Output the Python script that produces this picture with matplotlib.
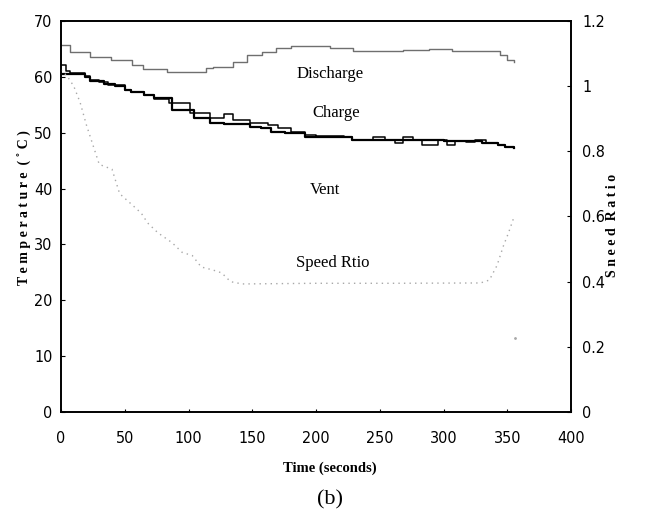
import matplotlib
matplotlib.use("Agg")
import matplotlib.pyplot as plt
from matplotlib import font_manager

# time / temperature readings for the two charge side lines (step data)
time_charge = [0, 19, 23, 34, 42, 50, 55, 65, 73, 87, 104, 117, 128, 148, 157,
               165, 176, 191, 228, 300, 330, 343, 348, 355]
temp_charge = [60.6, 60.0, 59.3, 58.8, 58.3, 57.7, 57.3, 56.8, 56.3, 54.1, 52.6,
               51.7, 51.6, 51.1, 50.8, 50.1, 50.0, 49.3, 48.7, 48.5, 48.2, 47.8,
               47.5, 47.3]

time_vent = [0, 4, 7, 19, 23, 30, 37, 44, 50, 55, 65, 73, 85, 101, 117, 128, 135,
             148, 155, 162, 170, 180, 191, 200, 222, 228, 245, 254, 262, 268, 276,
             283, 296, 303, 309, 318, 325, 333, 343, 348, 355]
temp_vent = [62.2, 61.0, 60.7, 60.2, 59.5, 59.0, 58.5, 58.6, 57.6, 57.3, 56.8,
             56.0, 55.3, 53.5, 52.6, 53.3, 52.3, 51.7, 51.7, 51.3, 50.8, 50.1,
             49.6, 49.4, 49.2, 48.7, 49.3, 48.7, 48.2, 49.3, 48.7, 47.8, 48.7,
             47.8, 48.6, 48.4, 48.7, 48.2, 47.8, 47.5, 47.2]

time_discharge = [0, 7, 23, 39, 56, 64, 83, 114, 119, 135, 146, 158, 169, 180,
                  211, 229, 268, 289, 307, 344, 350, 355]
temp_discharge = [65.7, 64.5, 63.6, 63.0, 62.1, 61.4, 60.8, 61.5, 61.8, 62.7,
                  63.9, 64.5, 65.1, 65.5, 65.2, 64.6, 64.8, 65.0, 64.6, 63.9,
                  63.0, 62.7]

# speed ratio (right axis)
time_speed = [0, 5, 10, 15, 20, 25, 30, 40, 46, 56, 63, 68, 76, 87, 95, 103, 110,
              119, 126, 133, 142, 200, 260, 329, 336, 342, 347, 351, 355]
speed_ratio = [1.05, 1.03, 1.0, 0.95, 0.88, 0.82, 0.76, 0.745, 0.67, 0.635, 0.61,
               0.58, 0.55, 0.52, 0.49, 0.48, 0.445, 0.436, 0.427, 0.40, 0.393,
               0.395, 0.395, 0.396, 0.405, 0.45, 0.51, 0.55, 0.595]
speed_last_t = [356]
speed_last = [0.227]

x_ticks = [0, 50, 100, 150, 200, 250, 300, 350, 400]
y_ticks = [0, 10, 20, 30, 40, 50, 60, 70]
y2_ticks = [0, 0.2, 0.4, 0.6, 0.8, 1.0, 1.2]
y2_labels = ["0", "0.2", "0.4", "0.6", "0.8", "1", "1.2"]

# narrow sans for the tick numbers if one is installed
narrow = [f for f in font_manager.fontManager.ttflist
          if ("Narrow" in f.name or "Condensed" in f.name
              or f.stretch in ("condensed", "semi-condensed", 500, 600))
          and f.style == "normal" and f.weight in ("normal", 400, "regular")]
if narrow:
    tick_fp = font_manager.FontProperties(fname=narrow[0].fname, size=11.5)
else:
    tick_fp = font_manager.FontProperties(family="Liberation Sans", size=11)
serif = "Liberation Serif"

fig = plt.figure(figsize=(6.46, 5.2), dpi=100)
ax = fig.add_axes([61 / 646, 1 - 412 / 520, 510 / 646, 391 / 520])
ax2 = ax.twinx()

ax.step(time_discharge, temp_discharge, where="post", color="#6f6f6f", lw=1.0)
ax.step(time_vent, temp_vent, where="post", color="black", lw=1.1)
ax.step(time_charge, temp_charge, where="post", color="black", lw=1.6)

ax2.plot(time_speed, speed_ratio, color="#a8a8a8", lw=1.0, ls=(0, (1, 3)))
ax2.plot(speed_last_t, speed_last, ls="none", marker=".", ms=2, color="#a8a8a8")

ax.set_xlim(0, 400)
ax.set_ylim(0, 70)
ax2.set_ylim(0, 1.2)
ax.set_xticks(x_ticks)
ax.set_yticks(y_ticks)
ax2.set_yticks(y2_ticks)
ax2.set_yticklabels(y2_labels)

for a in (ax, ax2):
    for lab in a.get_xticklabels() + a.get_yticklabels():
        lab.set_fontproperties(tick_fp)
    for s in a.spines.values():
        s.set_linewidth(1.2)
ax.tick_params(axis="x", direction="in", length=2, pad=14)
ax.tick_params(axis="y", direction="in", length=3, pad=6)
ax2.tick_params(axis="y", direction="in", length=3, pad=8)

# curve labels
ax.text(211, 60.5, "Discharge", family=serif, fontsize=12, ha="center", va="center")
ax.text(216, 53.5, "Charge", family=serif, fontsize=12, ha="center", va="center")
ax.text(207, 39.7, "Vent", family=serif, fontsize=12, ha="center", va="center")
ax.text(213, 26.7, "Speed Rtio", family=serif, fontsize=12, ha="center", va="center")

# axis titles
fig.text(25 / 646, 1 - 208 / 520, "T e m p e r a t u r e  ( ˚ C )", family=serif,
         fontweight="bold", fontsize=10, rotation=90, ha="center", va="center")
fig.text(613 / 646, 1 - 225 / 520, "S n e e d  R a t i o", family=serif,
         fontweight="bold", fontsize=10, rotation=90, ha="center", va="center")
fig.text(330 / 646, 1 - 468 / 520, "Time (seconds)", family=serif,
         fontweight="bold", fontsize=10.5, ha="center", va="center")
fig.text(330 / 646, 1 - 500 / 520, "(b)", family=serif, fontsize=16,
         ha="center", va="center")

fig.savefig("out.png", dpi=100)
